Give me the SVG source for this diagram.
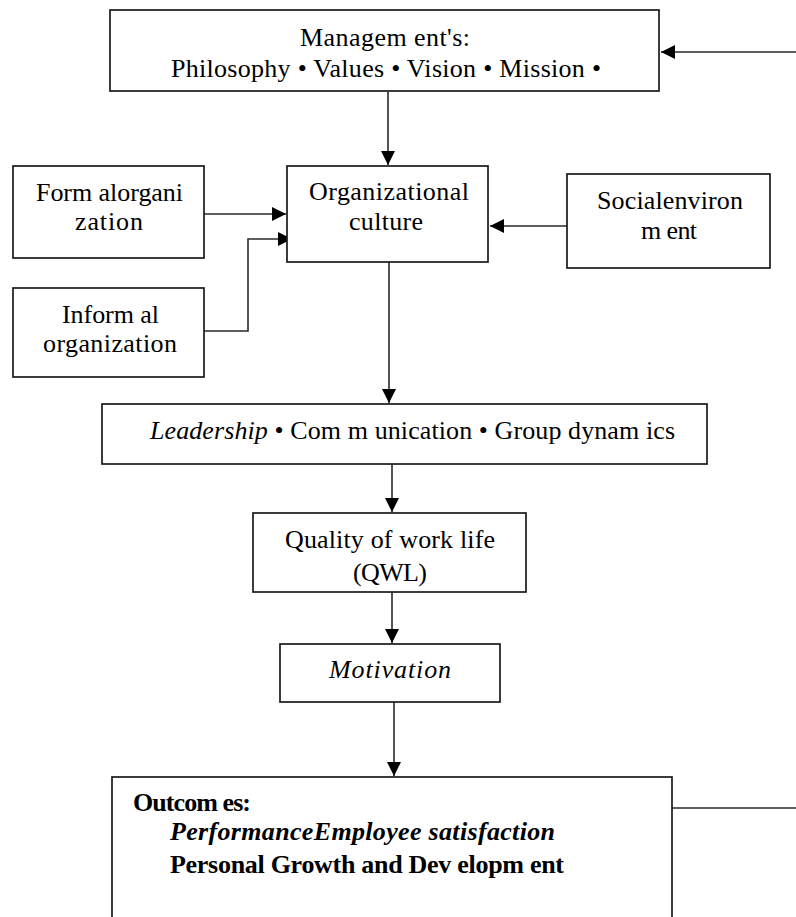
<svg xmlns="http://www.w3.org/2000/svg" width="796" height="917" viewBox="0 0 796 917">
<defs>
<style>
.box{fill:#fff;stroke:#1a1a1a;stroke-width:1.7}
.t{font-family:"Liberation Serif","Times New Roman",serif;font-size:26px;fill:#000}
.i{font-style:italic}
.b{font-weight:bold}
.c{fill:none;stroke:#2a2a2a;stroke-width:1.6}
</style>
<marker id="ah" markerUnits="userSpaceOnUse" markerWidth="15" markerHeight="15" refX="14" refY="7.5" orient="auto">
<path d="M0,0.5 L14,7.5 L0,14.5 z" fill="#000"/>
</marker>
</defs>
<rect width="796" height="917" fill="#fff"/>

<g id="connectors">
<path class="c" d="M388,92 V165" marker-end="url(#ah)"/>
<path class="c" d="M204,214 H286" marker-end="url(#ah)"/>
<path class="c" d="M204,331 H248 V239 H292" marker-end="url(#ah)"/>
<path class="c" d="M567,226 H490" marker-end="url(#ah)"/>
<path class="c" d="M389,262 V403" marker-end="url(#ah)"/>
<path class="c" d="M392,464 V512" marker-end="url(#ah)"/>
<path class="c" d="M392,592 V643" marker-end="url(#ah)"/>
<path class="c" d="M394,702 V776" marker-end="url(#ah)"/>
<path class="c" d="M672,808 H830 V52 H661" marker-end="url(#ah)"/>
</g>

<g id="management">
<rect class="box" x="110" y="10" width="549" height="81"/>
<text class="t" x="300" y="46" textLength="170">Managem ent's:</text>
<text class="t" x="171" y="77" textLength="430">Philosophy • Values • Vision • Mission •</text>
</g>

<g id="formal">
<rect class="box" x="13" y="166" width="191" height="92"/>
<text class="t" x="36" y="201" textLength="147">Form alorgani</text>
<text class="t" x="75" y="230" textLength="68">zation</text>
</g>

<g id="culture">
<rect class="box" x="287" y="166" width="201" height="96"/>
<text class="t" x="309" y="200" textLength="160">Organizational</text>
<text class="t" x="349" y="230" textLength="74">culture</text>
</g>

<g id="social">
<rect class="box" x="567" y="174" width="203" height="94"/>
<text class="t" x="597" y="209" textLength="146">Socialenviron</text>
<text class="t" x="641" y="239" textLength="56">m ent</text>
</g>

<g id="informal">
<rect class="box" x="13" y="288" width="191" height="89"/>
<text class="t" x="62" y="323" textLength="97">Inform al</text>
<text class="t" x="43" y="352" textLength="134">organization</text>
</g>

<g id="leadership">
<rect class="box" x="102" y="404" width="605" height="60"/>
<text class="t" x="150" y="439" textLength="525"><tspan class="i">Leadership</tspan> • Com m unication • Group dynam ics</text>
</g>

<g id="qwl">
<rect class="box" x="253" y="513" width="273" height="79"/>
<text class="t" x="285" y="548" textLength="210">Quality of work life</text>
<text class="t" x="353" y="581" textLength="74">(QWL)</text>
</g>

<g id="motivation">
<rect class="box" x="280" y="644" width="220" height="58"/>
<text class="t i" x="329" y="678" textLength="122">Motivation</text>
</g>

<g id="outcomes">
<rect class="box" x="112" y="777" width="560" height="160"/>
<text class="t b" x="133" y="811" textLength="118">Outcom es:</text>
<text class="t b i" x="170" y="840" textLength="385">PerformanceEmployee satisfaction</text>
<text class="t b" x="170" y="873" textLength="394">Personal Growth and Dev elopm ent</text>
</g>
</svg>
